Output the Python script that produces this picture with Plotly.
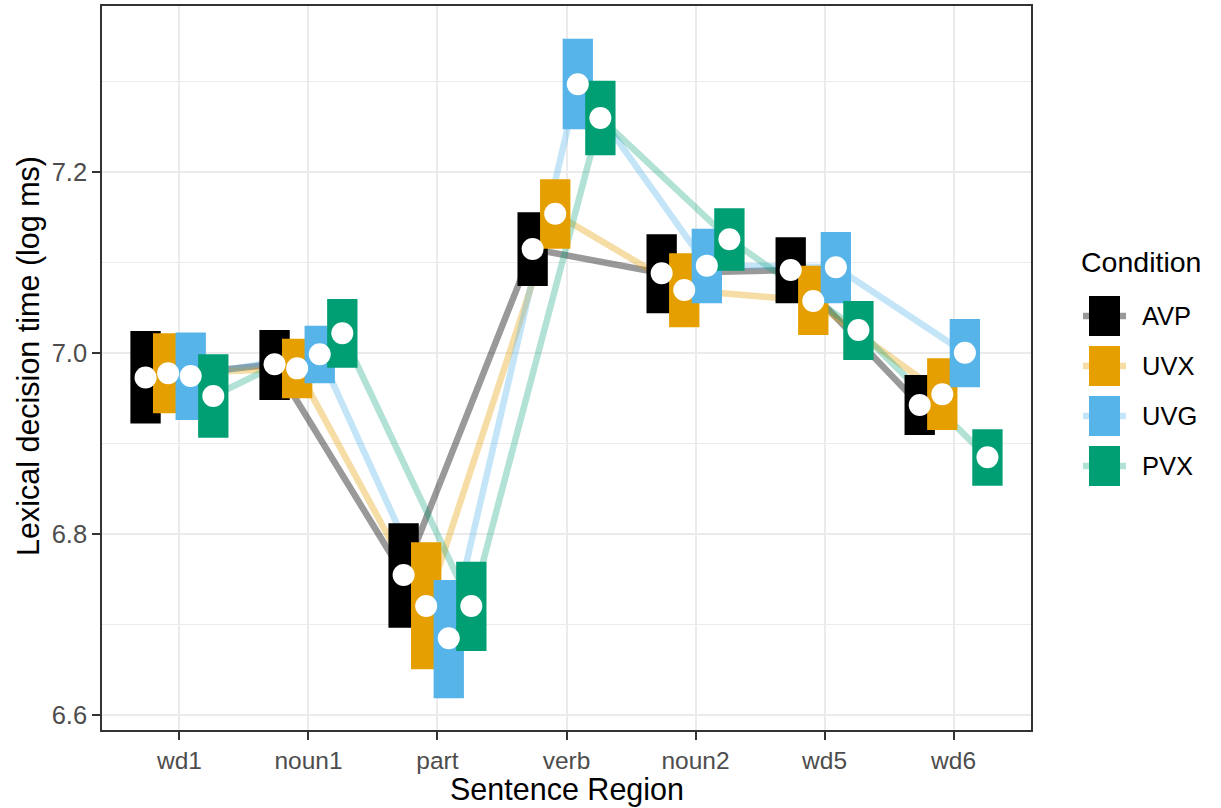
import plotly.graph_objects as go

regions = ["wd1", "noun1", "part", "verb", "noun2", "wd5", "wd6"]
conditions = ["AVP", "UVX", "UVG", "PVX"]
colors = ["#000000", "#E69F00", "#56B4E9", "#009E73"]
line_colors = ["rgba(0,0,0,0.4)", "rgba(230,159,0,0.35)", "rgba(86,180,233,0.35)", "rgba(0,158,115,0.3)"]

mean_AVP = [6.973, 6.9875, 6.7547, 7.1149, 7.0881, 7.0917, 6.9425]
lo_AVP = [6.922, 6.948, 6.6965, 7.074, 7.0439, 7.0549, 6.9094]
hi_AVP = [7.0243, 7.0254, 6.8118, 7.1554, 7.1311, 7.1278, 6.9757]

mean_UVX = [6.9775, 6.983, 6.7204, 7.1539, 7.0696, 7.0575, 6.9544]
lo_UVX = [6.9334, 6.950, 6.6505, 7.1152, 7.0284, 7.0199, 6.9149]
hi_UVX = [7.0217, 7.0158, 6.7908, 7.1919, 7.1102, 7.0965, 6.9941]

mean_UVG = [6.9746, 6.9986, 6.6847, 7.2969, 7.0965, 7.0947, 7.0003]
lo_UVG = [6.926, 6.9665, 6.6185, 7.2472, 7.0549, 7.0549, 6.9621]
hi_UVG = [7.0225, 7.0302, 6.7492, 7.3473, 7.1374, 7.1337, 7.0376]

mean_PVX = [6.9525, 7.0217, 6.7204, 7.2597, 7.1256, 7.0254, 6.8847]
lo_PVX = [6.9064, 6.9838, 6.6707, 7.2185, 7.0909, 6.9923, 6.8534]
hi_PVX = [6.9986, 7.0597, 6.7694, 7.3009, 7.1599, 7.0575, 6.9157]

means = [mean_AVP, mean_UVX, mean_UVG, mean_PVX]
los = [lo_AVP, lo_UVX, lo_UVG, lo_PVX]
his = [hi_AVP, hi_UVX, hi_UVG, hi_PVX]

y_major = [6.6, 6.8, 7.0, 7.2]
y_major_labels = ["6.6", "6.8", "7.0", "7.2"]
y_minor = [6.7, 6.9, 7.1, 7.3]

x_title = "Sentence Region"
y_title = "Lexical decision time (log ms)"
legend_title = "Condition"

dodge = 0.175
bar_w = 0.235
FONT = "Liberation Sans, Arial, Helvetica, sans-serif"

W, H = 1221, 808
L, R, T, B = 102, 190, 6, 78
PW, PH = W - L - R, H - T - B

def px(v):
    return (v - L) / PW

def py(v):
    return (H - B - v) / PH

fig = go.Figure()
pos = list(range(1, len(regions) + 1))

def xs_for(k):
    off = (k - (len(conditions) - 1) / 2) * dodge
    return [p + off for p in pos]

# connecting lines
for k, c in enumerate(conditions):
    fig.add_trace(go.Scatter(x=xs_for(k), y=means[k], mode="lines",
                             line=dict(color=line_colors[k], width=6.5),
                             showlegend=False, hoverinfo="skip"))
# interval rectangles
for k, c in enumerate(conditions):
    rx, ry = [], []
    for x, lo, hi in zip(xs_for(k), los[k], his[k]):
        rx += [x - bar_w / 2, x + bar_w / 2, x + bar_w / 2, x - bar_w / 2, x - bar_w / 2, None]
        ry += [lo, lo, hi, hi, lo, None]
    fig.add_trace(go.Scatter(x=rx, y=ry, mode="lines", fill="toself",
                             fillcolor=colors[k], line=dict(width=0, color=colors[k]),
                             showlegend=False, name=c))
# mean dots
for k, c in enumerate(conditions):
    fig.add_trace(go.Scatter(x=xs_for(k), y=means[k], mode="markers",
                             marker=dict(color="white", size=22, line=dict(width=0)),
                             showlegend=False, name=c))

# manual legend
shapes = []
annotations = []
annotations.append(dict(xref="paper", yref="paper", x=px(1079), y=py(262),
                        text=legend_title, showarrow=False, xanchor="left", yanchor="middle",
                        font=dict(size=28.5, color="black", family=FONT)))
for k, c in enumerate(conditions):
    cy = 316 + 50 * k
    shapes.append(dict(type="line", xref="paper", yref="paper", x0=px(1083), x1=px(1126),
                       y0=py(cy), y1=py(cy), line=dict(color=line_colors[k], width=6.5)))
    shapes.append(dict(type="rect", xref="paper", yref="paper", x0=px(1089), x1=px(1120),
                       y0=py(cy + 20), y1=py(cy - 20), fillcolor=colors[k], line=dict(width=0)))
    annotations.append(dict(xref="paper", yref="paper", x=px(1140), y=py(cy), text=c,
                            showarrow=False, xanchor="left", yanchor="middle",
                            font=dict(size=25.5, color="black", family=FONT)))

# axis titles
annotations.append(dict(xref="paper", yref="paper", x=0.5, y=py(789), text=x_title,
                        showarrow=False, xanchor="center", yanchor="middle",
                        font=dict(size=30.5, color="black", family=FONT)))
annotations.append(dict(xref="paper", yref="paper", x=px(28), y=py(356), text=y_title,
                        showarrow=False, xanchor="center", yanchor="middle", textangle=-90,
                        font=dict(size=30.5, color="black", family=FONT)))

fig.update_layout(
    width=W, height=H,
    margin=dict(l=L, r=R, t=T, b=B, autoexpand=False),
    paper_bgcolor="white", plot_bgcolor="white",
    showlegend=False,
    shapes=shapes, annotations=annotations,
    font=dict(family=FONT),
)
fig.update_xaxes(
    range=[0.4, 7.6], tickvals=pos, ticktext=regions,
    showgrid=True, gridcolor="#EBEBEB", gridwidth=2,
    showline=True, linecolor="#333333", linewidth=1.5, mirror=True,
    ticks="outside", ticklen=8, tickwidth=1.5, tickcolor="#333333",
    tickfont=dict(size=24.5, color="#4D4D4D", family=FONT),
    zeroline=False, automargin=False,
)
fig.update_yaxes(
    range=[6.5834, 7.3834], tickvals=y_major, ticktext=y_major_labels,
    showgrid=True, gridcolor="#EBEBEB", gridwidth=2,
    minor=dict(tickvals=y_minor, showgrid=True, gridcolor="#EBEBEB", gridwidth=1.2, ticklen=0),
    showline=True, linecolor="#333333", linewidth=1.5, mirror=True,
    ticks="outside", ticklen=8, tickwidth=1.5, tickcolor="#333333",
    tickfont=dict(size=25.5, color="#4D4D4D", family=FONT),
    zeroline=False, automargin=False,
)

fig.write_html("out.html", config={"displayModeBar": False},
               post_script="document.body.style.margin='0px';document.body.style.overflow='hidden';")
